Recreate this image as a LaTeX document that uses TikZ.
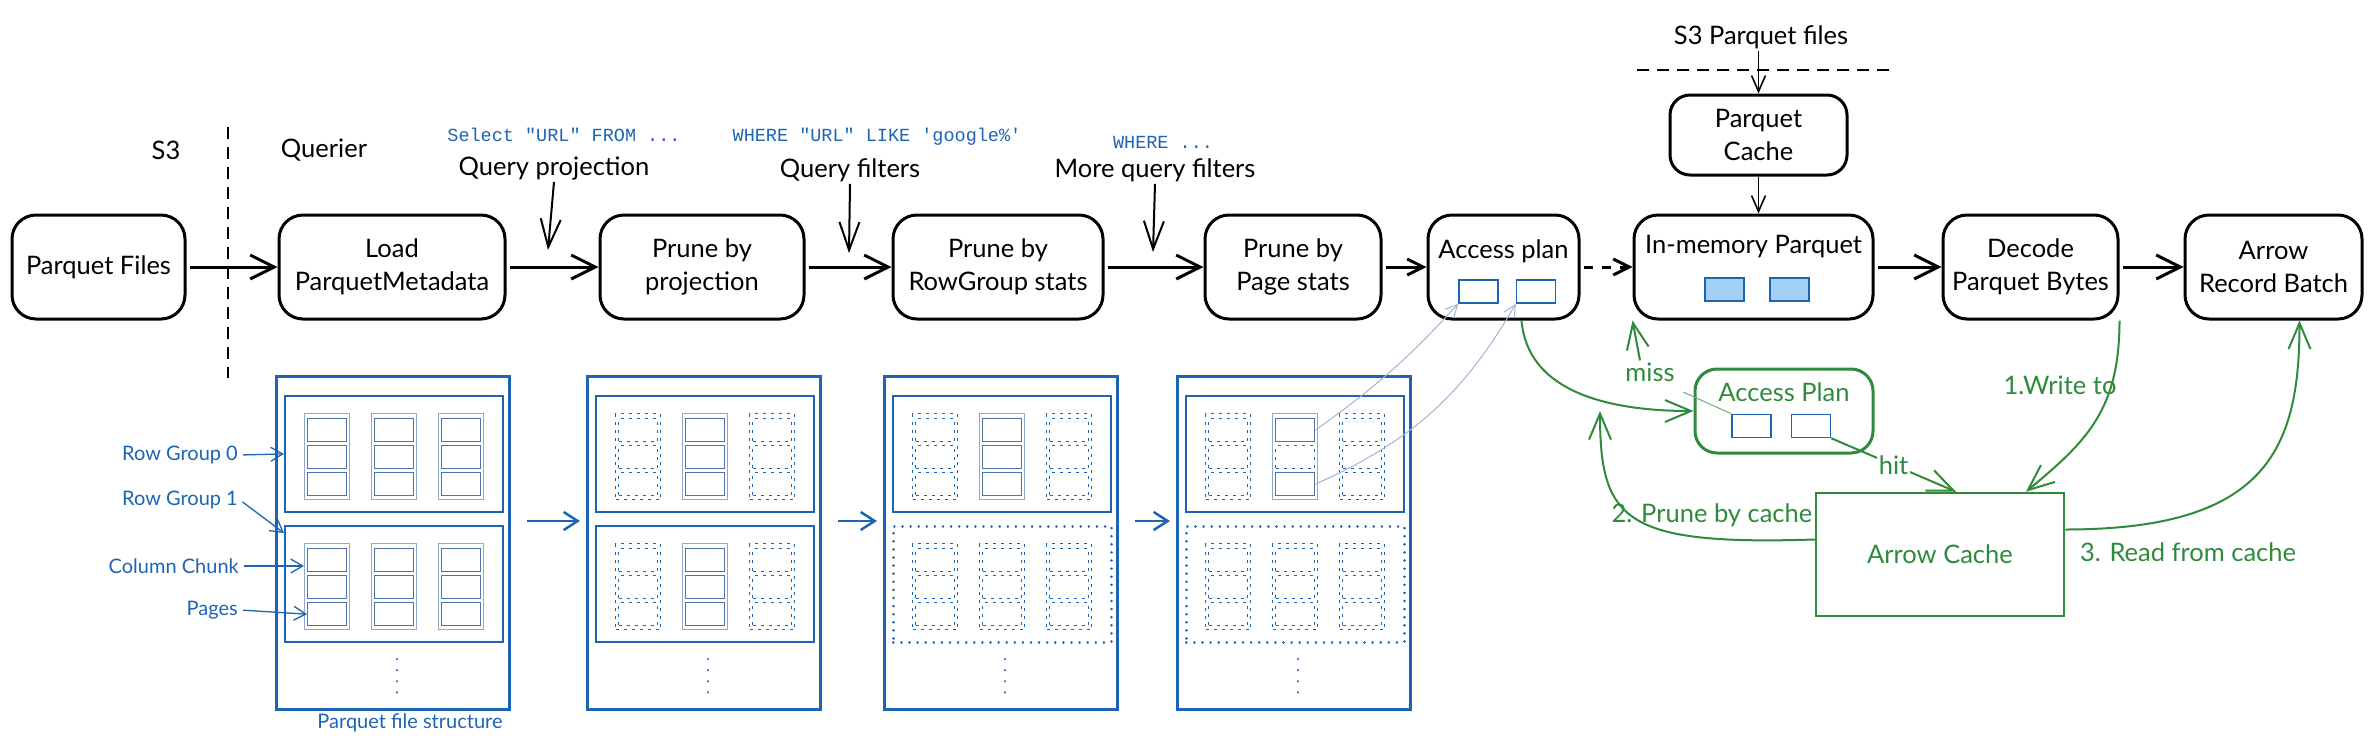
\documentclass[tikz,border=0pt]{standalone}
\usepackage{fontspec}
\setmainfont{Lato}
\newfontfamily\codefont{Liberation Mono}
\usetikzlibrary{arrows.meta,calc}
\newcommand\boxsize{\fontsize{25.5pt}{33pt}\selectfont}
\newcommand\notesize{\fontsize{20pt}{24pt}\selectfont}
\newcommand\codesize{\fontsize{18.5pt}{22pt}\selectfont}
\definecolor{pqblue}{HTML}{1E64B4}
\definecolor{chunkline}{HTML}{8FAAD0}
\definecolor{pageline}{HTML}{4F72A8}
\definecolor{slotfill}{HTML}{A5D0F5}
\definecolor{cachegreen}{HTML}{2F8A3C}
\definecolor{linkblue}{HTML}{9DB4D4}
\begin{document}
\begin{tikzpicture}[x=1pt,y=-1pt]
	\tikzstyle{stage}=[draw=black, line width=3pt, rounded corners=24pt, minimum height=104pt, inner sep=4pt, align=center, font=\boxsize]
	\tikzstyle{plain}=[inner sep=2pt, font=\boxsize]
	\tikzstyle{code}=[inner sep=2pt, text=pqblue, font=\codefont\codesize]
	\tikzstyle{edge}=[draw, line width=3pt, -{Straight Barb[length=24pt,width=24pt]}, shorten <=3pt]
	\tikzstyle{shortedge}=[draw, line width=3pt, -{Straight Barb[length=16pt,width=16pt]}, shorten <=3pt]
	\tikzstyle{queryedge}=[draw, line width=2pt, -{Straight Barb[length=28pt,width=20pt]}]
	\tikzstyle{thinedge}=[draw, line width=1.6pt, -{Straight Barb[length=16pt,width=14pt]}]
	\tikzstyle{cutline}=[draw, line width=2.5pt, dash pattern=on 12pt off 8pt]
	\tikzstyle{slot}=[draw=pqblue, line width=1.5pt, minimum width=39pt, minimum height=23pt, inner sep=0pt]
	\tikzstyle{fullslot}=[slot, fill=slotfill]
	\tikzstyle{fileframe}=[draw=pqblue, line width=3pt, minimum width=233pt, minimum height=333pt, inner sep=0pt, anchor=north west]
	\tikzstyle{rowgroup0}=[draw=pqblue, line width=1.8pt, minimum width=218pt, minimum height=116pt, inner sep=0pt, anchor=north west]
	\tikzstyle{rowgroup1}=[rowgroup0, dash pattern=on 0.1pt off 8pt, line cap=round, line width=2.5pt]
	\tikzstyle{chunk1}=[draw=chunkline, line width=1.3pt, minimum width=45pt, minimum height=86pt, inner sep=0pt, anchor=north west]
	\tikzstyle{chunk0}=[chunk1, draw=pqblue, dash pattern=on 3pt off 5pt, line width=1.2pt]
	\tikzstyle{page1}=[draw=pageline, line width=1.3pt, minimum width=39pt, minimum height=23pt, inner sep=0pt, anchor=north west]
	\tikzstyle{page0}=[page1, draw=pqblue, dash pattern=on 3pt off 5pt, line width=1.2pt]
	\tikzstyle{dotcol}=[draw=pqblue, line width=2.5pt, dash pattern=on 0.1pt off 11pt, line cap=round]
	\tikzstyle{fileedge}=[draw=pqblue, line width=2.5pt, -{Straight Barb[length=14pt,width=18pt]}, shorten <=16pt, shorten >=6pt]
	\tikzstyle{note}=[inner sep=2pt, text=pqblue, font=\notesize]
	\tikzstyle{noteedge}=[draw=pqblue, line width=1.3pt, -{Straight Barb[length=12pt,width=14pt]}, shorten <=3pt]
	\tikzstyle{linkedge}=[draw=linkblue, line width=1pt, -{Straight Barb[length=12pt,width=12pt]}]
	\tikzstyle{cachebox}=[draw=cachegreen, line width=3pt, rounded corners=22pt, minimum width=178pt, minimum height=84pt, inner sep=0pt]
	\tikzstyle{cachestore}=[draw=cachegreen, line width=2.5pt, minimum width=248pt, minimum height=123pt, text=cachegreen, font=\boxsize]
	\tikzstyle{cachetext}=[inner sep=2pt, text=cachegreen, font=\boxsize]
	\tikzstyle{cacheedge}=[draw=cachegreen, line width=2pt, -{Straight Barb[length=26pt,width=22pt]}]
	\tikzstyle{cachethin}=[draw=cachegreen!70, line width=1pt]
	\useasboundingbox (0,0) rectangle (2378,748);

	% top labels
	\node [plain] (s3) at (166,150) {S3};
	\node [plain] (querier) at (324,150) {Querier};
	\coordinate (splitt) at (228,127);
	\coordinate (splitb) at (228,378);
	\path [cutline] (splitt) -- (splitb);
	\node [code] (sel) at (564,135) {Select "URL" FROM ...};
	\node [plain] (qp) at (554,168) {Query projection};
	\node [code] (wh1) at (877,137) {WHERE "URL" LIKE \textquotesingle google\%\textquotesingle};
	\node [plain] (qf) at (850,170) {Query filters};
	\node [code] (wh2) at (1163,142) {WHERE ...};
	\node [plain] (mqf) at (1155,170) {More query filters};
	\coordinate (qpend) at (548,250);
	\coordinate (qfend) at (849,253);
	\coordinate (mqfend) at (1153,252);
	\path [queryedge] (qp.south) -- (qpend);
	\path [queryedge] (qf.south) -- (qfend);
	\path [queryedge] (mqf.south) -- (mqfend);

	% main pipeline
	\node [stage, minimum width=173pt] (pf) at (98.5,267) {Parquet Files};
	\node [stage, minimum width=226pt] (lpm) at (392,267) {Load\\ParquetMetadata};
	\node [stage, minimum width=204pt] (pbp) at (702,267) {Prune by\\projection};
	\node [stage, minimum width=210pt] (pbr) at (998,267) {Prune by\\RowGroup stats};
	\node [stage, minimum width=176pt] (pbs) at (1293,267) {Prune by\\Page stats};
	\node [stage, minimum width=151pt] (ap) at (1503.5,267) {};
	\node [plain] (aptxt) at (1503.5,251) {Access plan};
	\node [slot] (ap-s1) at (1478.5,291.5) {};
	\node [slot] (ap-s2) at (1536,291.5) {};
	\node [stage, minimum width=239pt] (imp) at (1753.5,267) {};
	\node [plain] (imptxt) at (1753.5,247) {In-memory Parquet};
	\node [fullslot] (imp-s1) at (1724.5,289.5) {};
	\node [fullslot] (imp-s2) at (1789.5,289.5) {};
	\node [stage, minimum width=175pt] (dec) at (2030.5,267) {Decode\\Parquet Bytes};
	\node [stage, minimum width=177pt] (arb) at (2273.5,267) {Arrow\\Record Batch};
	\path [edge] (pf) -- (lpm);
	\path [edge] (lpm) -- (pbp);
	\path [edge] (pbp) -- (pbr);
	\path [edge] (pbr) -- (pbs);
	\path [shortedge] (pbs) -- (ap);
	\path [shortedge, dash pattern=on 9pt off 9pt] (ap) -- (imp);
	\path [edge] (imp) -- (dec);
	\path [edge] (dec) -- (arb);

	% parquet cache
	\node [plain] (s3pf) at (1761,37) {S3 Parquet files};
	\coordinate (cutl) at (1637,70);
	\coordinate (cutr) at (1890,70);
	\path [cutline] (cutl) -- (cutr);
	\node [stage, minimum width=177pt, minimum height=80pt, rounded corners=20pt] (pc) at (1758.5,135) {Parquet\\Cache};
	\path [thinedge] (pc.north |- s3pf.south) -- (pc.north);
	\path [thinedge] (pc.south) -- (pc.south |- imp.north);

	% parquet file structures
	\foreach \n/\nx/\lev in {1/275/0,2/586/1,3/883/2,4/1176/3} {
		\node [fileframe] (f\n) at (\nx,375) {};
		\foreach \r in {0,1} {
			\pgfmathtruncatemacro\rgcut{(\lev>1)&&(\r==1)}
			\node [rowgroup\rgcut] (f\n-rg\r) at (\nx+9,395+130*\r) {};
			\foreach \c in {0,1,2} {
				\pgfmathtruncatemacro\chkeep{(\lev==0)||((\c==1)&&((\lev==1)||(\r==0)))}
				\node [chunk\chkeep] (f\n-c\r\c) at (\nx+29+67*\c,413+130*\r) {};
				\foreach \p in {0,1,2} {
					\pgfmathtruncatemacro\pgkeep{(\chkeep==1)&&!((\lev==3)&&(\p==1))}
					\node [page\pgkeep] (f\n-p\r\c\p) at (\nx+32+67*\c,418+130*\r+27*\p) {};
				}
			}
		}
		\draw [dotcol] (\nx+122,659) -- (\nx+122,693);
	}
	\foreach \a/\b in {1/2,2/3,3/4}
		\path [fileedge] ([yshift=22pt]f\a.east) -- ([yshift=22pt]f\b.west);
	\node [note, anchor=east] (lrg0) at (240,455) {Row Group 0};
	\node [note, anchor=east] (lrg1) at (240,500) {Row Group 1};
	\node [note, anchor=east] (lcc) at (241,566) {Column Chunk};
	\node [note, anchor=east] (lpg) at (240,610) {Pages};
	\node [note] (pfs) at (410,723) {Parquet file structure};
	\path [noteedge] (lrg0.east) -- (f1-rg0.west);
	\path [noteedge] (lrg1.east) -- ([yshift=-8pt]f1-rg1.north west);
	\path [noteedge] (lcc.east) -- (lcc.east -| f1-c10.west);
	\path [noteedge] (lpg.east) -- (f1-p102.west);
	\path [linkedge] (f4-p010.east) to[bend right=6] (ap-s1.south west);
	\path [linkedge] (f4-p012.east) to[bend right=18] (ap-s2.south west);

	% arrow cache
	\node [cachebox] (gap) at (1784,411) {};
	\node [cachetext] (gaptxt) at (1784,392) {Access Plan};
	\node [slot] (gap-s1) at (1751.5,426) {};
	\node [slot] (gap-s2) at (1811,426) {};
	\coordinate (gapin) at (1683,392);
	\path [cachethin] (gapin) -- (gap-s1.north west);
	\node [cachestore] (ac) at (1940,554.5) {Arrow Cache};
	\node [cachetext] (miss) at (1650,372) {miss};
	\node [cachetext] (wrt) at (2060,385) {1.Write to};
	\node [cachetext] (pbc) at (1712,515) {2. Prune by cache};
	\node [cachetext] (rfc) at (2188,552) {3. Read from cache};
	\coordinate (merge) at (1600,411);
	\path [cacheedge] ([xshift=18pt]ap.south) to[out=-85,in=180] (gap.west);
	\path [cacheedge] ([xshift=-10pt]miss.north) -- (imp.south west);
	\path [cacheedge] (gap-s2.south east) -- node [cachetext, fill=white] (hit) {hit} ([xshift=16pt]ac.north);
	\path [cacheedge] (dec.south east) .. controls +(0,90) and +(60,-50) .. ([xshift=86pt]ac.north);
	\path [cacheedge] ([yshift=15pt]ac.west) .. controls +(-190,6) and +(0,110) .. (merge);
	\path [cacheedge] ([yshift=25pt]ac.east) .. controls +(200,0) and +(0,130) .. ([xshift=26pt]arb.south);
\end{tikzpicture}
\end{document}
